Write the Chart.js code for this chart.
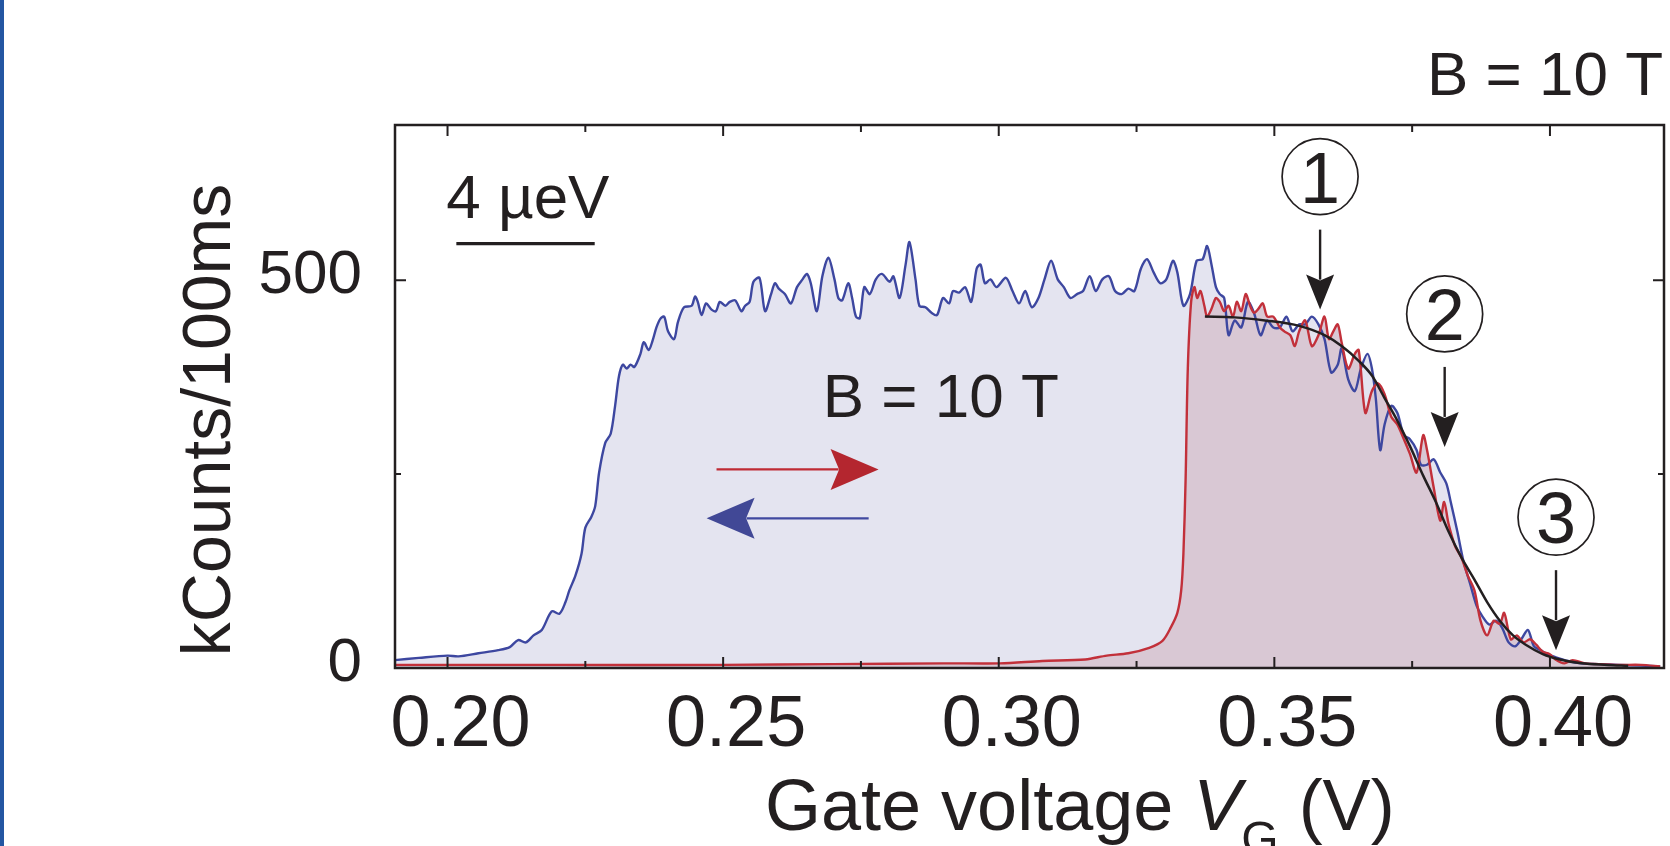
<!DOCTYPE html>
<html>
<head>
<meta charset="utf-8">
<title>kCounts vs gate voltage, B = 10 T</title>
<script src="https://cdn.jsdelivr.net/npm/chart.js@4.4.1/dist/chart.umd.min.js"></script>
<style>
  html, body { margin: 0; padding: 0; background: #fff; }
  #wrap { width: 1670px; height: 846px; }
</style>
</head>
<body>
<div id="wrap"><canvas id="chart" width="1670" height="846"></canvas></div>
<script>
// axis ticks
const xTicks = [0.20, 0.25, 0.30, 0.35, 0.40];
const xMinorTicks = [0.225, 0.275, 0.325, 0.375];
const yTicks = [0, 500];
const yMinorTicks = [250];

// backward sweep (blue), gate voltage in V / kCounts per 100 ms
const blueV = [0.1903, 0.1948, 0.2000, 0.2020, 0.2056, 0.2092, 0.2113, 0.2128, 0.2142, 0.2156,
  0.2171, 0.2189, 0.2203, 0.2214, 0.2221, 0.2232, 0.2243, 0.2250, 0.2261, 0.2268,
  0.2275, 0.2286, 0.2296, 0.2304, 0.2311, 0.2318, 0.2325, 0.2332, 0.2339, 0.2350,
  0.2356, 0.2365, 0.2372, 0.2379, 0.2386, 0.2393, 0.2400, 0.2411, 0.2418, 0.2429,
  0.2443, 0.2449, 0.2454, 0.2461, 0.2469, 0.2479, 0.2487, 0.2494, 0.2504, 0.2512,
  0.2522, 0.2533, 0.2540, 0.2548, 0.2555, 0.2566, 0.2576, 0.2587, 0.2594, 0.2601,
  0.2612, 0.2623, 0.2634, 0.2644, 0.2652, 0.2659, 0.2670, 0.2680, 0.2691, 0.2702,
  0.2709, 0.2716, 0.2727, 0.2734, 0.2741, 0.2748, 0.2756, 0.2766, 0.2777, 0.2788,
  0.2802, 0.2809, 0.2820, 0.2831, 0.2838, 0.2849, 0.2856, 0.2867, 0.2878, 0.2888,
  0.2899, 0.2910, 0.2917, 0.2928, 0.2939, 0.2950, 0.2960, 0.2967, 0.2975, 0.2985,
  0.2996, 0.3013, 0.3025, 0.3037, 0.3048, 0.3060, 0.3072, 0.3083, 0.3095, 0.3107,
  0.3118, 0.3130, 0.3142, 0.3153, 0.3165, 0.3176, 0.3188, 0.3200, 0.3211, 0.3223,
  0.3235, 0.3246, 0.3258, 0.3269, 0.3281, 0.3293, 0.3304, 0.3316, 0.3324, 0.3335,
  0.3347, 0.3359, 0.3370, 0.3378, 0.3386, 0.3394, 0.3401, 0.3409, 0.3417, 0.3428,
  0.3440, 0.3452, 0.3463, 0.3475, 0.3487, 0.3498, 0.3510, 0.3522, 0.3533, 0.3545,
  0.3556, 0.3568, 0.3580, 0.3591, 0.3603, 0.3615, 0.3622, 0.3634, 0.3646, 0.3657,
  0.3669, 0.3677, 0.3684, 0.3692, 0.3700, 0.3712, 0.3723, 0.3735, 0.3746, 0.3758,
  0.3766, 0.3777, 0.3789, 0.3801, 0.3812, 0.3820, 0.3832, 0.3843, 0.3855, 0.3867,
  0.3878, 0.3890, 0.3902, 0.3913, 0.3925, 0.3937, 0.3948, 0.3960, 0.3971, 0.3983,
  0.3995, 0.4010, 0.4033, 0.4057, 0.4088, 0.4126, 0.4165, 0.4200];
const blueK = [10, 13, 16, 15, 19, 23, 27, 36, 33, 42,
  49, 73, 70, 85, 100, 119, 147, 181, 195, 209,
  252, 290, 302, 338, 376, 391, 386, 391, 388, 405,
  420, 410, 422, 439, 450, 453, 434, 424, 446, 465,
  467, 479, 472, 455, 470, 462, 460, 472, 467, 472,
  474, 460, 467, 472, 498, 503, 460, 482, 496, 489,
  482, 470, 491, 501, 508, 496, 460, 505, 529, 501,
  477, 474, 496, 477, 453, 451, 491, 482, 501, 508,
  498, 505, 477, 520, 549, 501, 467, 465, 458, 455,
  477, 470, 486, 484, 491, 472, 515, 520, 496, 501,
  491, 503, 486, 470, 486, 465, 477, 501, 525, 501,
  491, 477, 482, 486, 505, 486, 501, 505, 486, 482,
  489, 486, 515, 527, 510, 496, 501, 525, 510, 467,
  482, 525, 527, 544, 520, 491, 482, 477, 429, 448,
  439, 472, 458, 429, 448, 439, 439, 453, 434, 443,
  443, 453, 443, 424, 381, 391, 412, 372, 357, 386,
  405, 386, 348, 281, 314, 338, 329, 300, 295, 281,
  262, 262, 269, 252, 238, 214, 176, 138, 109, 80,
  66, 56, 61, 52, 33, 28, 37, 49, 28, 23,
  18, 14, 9, 6, 5, 4, 3, 2];

// forward sweep (red)
const redV = [0.1903, 0.2200, 0.2500, 0.2700, 0.2900, 0.3002, 0.3079, 0.3157, 0.3196, 0.3235,
  0.3273, 0.3297, 0.3312, 0.3324, 0.3331, 0.3335, 0.3339, 0.3343, 0.3349, 0.3355,
  0.3360, 0.3366, 0.3373, 0.3378, 0.3386, 0.3394, 0.3401, 0.3409, 0.3417, 0.3425,
  0.3432, 0.3440, 0.3448, 0.3456, 0.3463, 0.3471, 0.3479, 0.3487, 0.3498, 0.3510,
  0.3518, 0.3529, 0.3537, 0.3545, 0.3556, 0.3568, 0.3580, 0.3591, 0.3599, 0.3607,
  0.3615, 0.3622, 0.3634, 0.3646, 0.3653, 0.3665, 0.3677, 0.3688, 0.3700, 0.3712,
  0.3723, 0.3735, 0.3746, 0.3758, 0.3770, 0.3777, 0.3789, 0.3801, 0.3808, 0.3816,
  0.3828, 0.3839, 0.3851, 0.3863, 0.3874, 0.3886, 0.3898, 0.3909, 0.3917, 0.3929,
  0.3940, 0.3952, 0.3964, 0.3975, 0.3987, 0.3999, 0.4010, 0.4026, 0.4041, 0.4064,
  0.4088, 0.4126, 0.4165, 0.4200];
const redK = [4, 4, 4, 5, 6, 6, 9, 11, 16, 19,
  26, 35, 52, 71, 100, 147, 243, 386, 472, 491,
  477, 486, 467, 453, 463, 477, 472, 460, 467, 453,
  472, 460, 482, 467, 458, 463, 470, 453, 453, 439,
  434, 429, 415, 434, 448, 415, 429, 453, 424, 434,
  443, 420, 386, 405, 410, 329, 357, 367, 353, 324,
  314, 295, 276, 252, 300, 281, 233, 190, 214, 186,
  157, 143, 119, 100, 61, 42, 61, 57, 71, 37,
  42, 33, 37, 30, 21, 18, 11, 6, 10, 6,
  5, 4, 4, 2];

// fit (black)
const fitV = [0.3374, 0.3428, 0.3483, 0.3545, 0.3591, 0.3622, 0.3653, 0.3677, 0.3700, 0.3723,
  0.3746, 0.3770, 0.3793, 0.3816, 0.3839, 0.3863, 0.3886, 0.3909, 0.3933, 0.3956,
  0.3987, 0.4018, 0.4057, 0.4104, 0.4142];
const fitK = [453, 452, 448, 441, 429, 415, 396, 377, 348, 319,
  286, 248, 214, 176, 143, 114, 85, 61, 42, 30,
  18, 11, 6, 4, 3];

// numbered markers: where each arrow points
const markV = [0.3583, 0.3809, 0.4011];
const markK = [462, 285, 23];
const markText = ['1', '2', '3'];

const FONT = "'Liberation Sans', Arial, Helvetica, sans-serif";
const INK = '#231f20';
const BLUE = '#3d47a0';
const RED = '#c2303a';

function pts(xs, ys) {
    return xs.map((v, i) => ({ x: v, y: ys[i] }));
}

function head(c, tx, ty, dx, dy, len, half, notch) {
    const bx = tx - dx * len, by = ty - dy * len;
    c.beginPath();
    c.moveTo(tx, ty);
    c.lineTo(bx - dy * half, by + dx * half);
    c.lineTo(tx - dx * (len - notch), ty - dy * (len - notch));
    c.lineTo(bx + dy * half, by - dx * half);
    c.closePath();
    c.fill();
}

const decor = {
    id: 'decor',
    beforeDraw(chart) {
        const c = chart.ctx;
        c.save();
        c.fillStyle = '#ffffff';
        c.fillRect(0, 0, chart.width, chart.height);
        c.fillStyle = '#2456a2';
        c.fillRect(0, 0, 4, chart.height);
        c.restore();
    },
    afterDraw(chart) {
        const c = chart.ctx, a = chart.chartArea;
        const xs = chart.scales.x, ys = chart.scales.y;
        c.save();
        c.strokeStyle = INK;
        c.fillStyle = INK;

        // box
        c.lineWidth = 2.5;
        c.strokeRect(a.left, a.top, a.right - a.left, a.bottom - a.top);

        // inward ticks, all four sides
        c.lineWidth = 2;
        c.beginPath();
        const xt = (v, len) => {
            const X = xs.getPixelForValue(v);
            c.moveTo(X, a.bottom); c.lineTo(X, a.bottom - len);
            c.moveTo(X, a.top); c.lineTo(X, a.top + len);
        };
        const yt = (v, len) => {
            const Y = ys.getPixelForValue(v);
            c.moveTo(a.left, Y); c.lineTo(a.left + len, Y);
            c.moveTo(a.right, Y); c.lineTo(a.right - len, Y);
        };
        xTicks.forEach(v => xt(v, 11));
        xMinorTicks.forEach(v => xt(v, 7));
        yTicks.filter(v => v > 0).forEach(v => yt(v, 11));
        yMinorTicks.forEach(v => yt(v, 6));
        c.stroke();

        // energy scale bar
        c.lineWidth = 3.3;
        c.beginPath();
        c.moveTo(xs.getPixelForValue(0.2016), ys.getPixelForValue(547));
        c.lineTo(xs.getPixelForValue(0.2267), ys.getPixelForValue(547));
        c.stroke();

        c.textAlign = 'left';
        c.textBaseline = 'alphabetic';
        c.font = '62px ' + FONT;
        c.fillText('4 \u00b5eV', xs.getPixelForValue(0.19976), ys.getPixelForValue(580.6));
        c.fillText('B = 10 T', xs.getPixelForValue(0.26806), ys.getPixelForValue(323.9));
        c.fillText('B = 10 T', 1427, 95);

        // sweep direction arrows
        const ry = ys.getPixelForValue(256);
        const r0 = xs.getPixelForValue(0.2488), r1 = xs.getPixelForValue(0.2782);
        c.strokeStyle = '#bf2a34';
        c.fillStyle = '#b4262f';
        c.lineWidth = 2.2;
        c.beginPath(); c.moveTo(r0, ry); c.lineTo(r1 - 40, ry); c.stroke();
        head(c, r1, ry, 1, 0, 48, 20.5, 8.5);

        const by = ys.getPixelForValue(193);
        const b0 = xs.getPixelForValue(0.2764), b1 = xs.getPixelForValue(0.2470);
        c.strokeStyle = '#4049a0';
        c.fillStyle = '#414896';
        c.beginPath(); c.moveTo(b0, by); c.lineTo(b1 + 40, by); c.stroke();
        head(c, b1, by, -1, 0, 48, 20.5, 8.5);

        // numbered markers
        c.strokeStyle = INK;
        c.fillStyle = INK;
        c.textAlign = 'center';
        c.font = '72px ' + FONT;
        markV.forEach((v, i) => {
            const X = xs.getPixelForValue(v), Y = ys.getPixelForValue(markK[i]);
            c.lineWidth = 2.4;
            c.beginPath(); c.moveTo(X, Y - 80); c.lineTo(X, Y - 30); c.stroke();
            head(c, X, Y, 0, 1, 35, 14, 6);
            c.lineWidth = 1.7;
            c.beginPath(); c.arc(X, Y - 133, 38, 0, Math.PI * 2); c.stroke();
            c.fillText(markText[i], X, Y - 133 + 26);
        });

        // axis titles
        c.textAlign = 'left';
        c.font = '72px ' + FONT;
        let x = 765;
        const base = 830;
        c.fillText('Gate voltage ', x, base);
        x += c.measureText('Gate voltage ').width;
        c.font = 'italic 72px ' + FONT;
        c.fillText('V', x, base);
        x += c.measureText('V').width;
        c.font = '48px ' + FONT;
        c.fillText('G', x, base + 25);
        x += c.measureText('G').width;
        c.font = '72px ' + FONT;
        c.fillText(' (V)', x, base);

        c.translate(230, 420);
        c.rotate(-Math.PI / 2);
        c.textAlign = 'center';
        c.font = '68px ' + FONT;
        c.fillText('kCounts/100ms', 0, 0);
        c.restore();
    }
};

const chart = new Chart(document.getElementById('chart'), {
    type: 'line',
    data: {
        datasets: [
            {
                label: 'fit',
                data: pts(fitV, fitK),
                borderColor: INK,
                borderWidth: 2.5,
                pointRadius: 0,
                cubicInterpolationMode: 'monotone',
                fill: false,
            },
            {
                label: 'forward',
                data: pts(redV, redK),
                borderColor: RED,
                borderWidth: 2.4,
                backgroundColor: '#d9c8d4',
                pointRadius: 0,
                tension: 0.3,
                fill: 'origin',
            },
            {
                label: 'backward',
                data: pts(blueV, blueK),
                borderColor: BLUE,
                borderWidth: 2.4,
                backgroundColor: '#e4e4f0',
                pointRadius: 0,
                tension: 0.3,
                fill: 'origin',
            },
        ],
    },
    options: {
        responsive: false,
        devicePixelRatio: 1,
        animation: false,
        events: [],
        layout: { padding: { top: 125, right: 6, left: 0, bottom: 0 } },
        scales: {
            x: {
                type: 'linear',
                min: 0.19047,
                max: 0.42069,
                grid: { display: false },
                border: { display: false },
                afterBuildTicks: (s) => { s.ticks = xTicks.map(v => ({ value: v })); },
                afterFit: (s) => { s.height = 178; },
                ticks: {
                    autoSkip: false,
                    maxRotation: 0,
                    padding: 7,
                    labelOffset: 13,
                    color: INK,
                    font: { family: FONT, size: 72 },
                    callback: (v) => v.toFixed(2),
                },
            },
            y: {
                min: 0,
                max: 700,
                grid: { display: false },
                border: { display: false },
                afterBuildTicks: (s) => { s.ticks = yTicks.map(v => ({ value: v })); },
                afterFit: (s) => { s.width = 395; },
                ticks: {
                    padding: 25,
                    labelOffset: -4,
                    color: INK,
                    font: { family: FONT, size: 62 },
                    callback: (v) => String(v),
                },
            },
        },
        plugins: {
            legend: { display: false },
            tooltip: { enabled: false },
            filler: { drawTime: 'beforeDatasetsDraw' },
        },
    },
    plugins: [decor],
});
</script>
</body>
</html>
